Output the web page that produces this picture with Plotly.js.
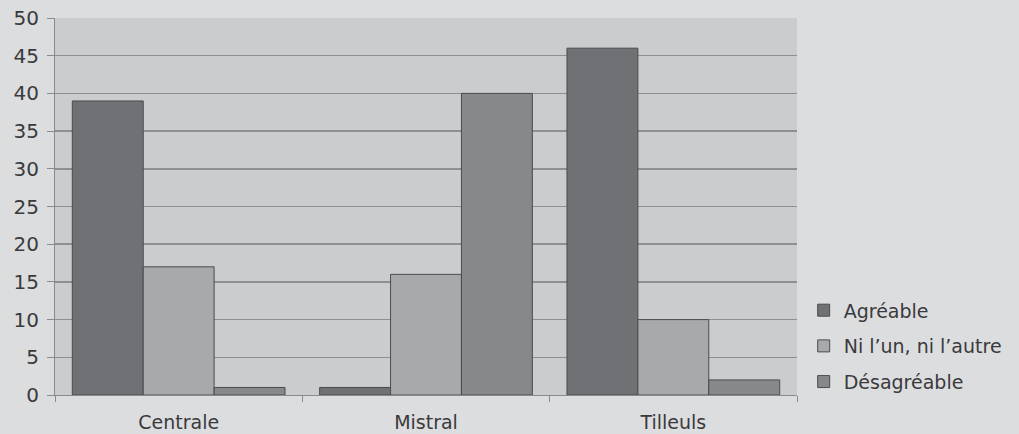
<!DOCTYPE html>
<html><head><meta charset="utf-8">
<script src="https://cdn.plot.ly/plotly-3.0.1.min.js"></script>
<style>html,body{margin:0;padding:0;background:#dcdddf;}</style>
</head><body>
<div id="chart" style="width:1019px;height:434px;"></div>
<script>
const categories = ["Centrale", "Mistral", "Tilleuls"];
const agreable = [39, 1, 46];
const niLunNiLautre = [17, 16, 10];
const desagreable = [1, 40, 2];
const seriesNames = ["Agréable", "Ni l’un, ni l’autre", "Désagréable"];
const yTicks = [0, 5, 10, 15, 20, 25, 30, 35, 40, 45, 50];

const colors = ["#707174", "#a8a9ab", "#87888a"];
const series = [agreable, niLunNiLautre, desagreable];
const traces = series.map((vals, i) => ({
  type: "bar", x: categories, y: vals, name: seriesNames[i],
  legendgroup: "g" + i,
  marker: {color: colors[i], line: {color: "#4c4c4e", width: 1}}
}));

const layout = {
  width: 1019, height: 434,
  paper_bgcolor: "#dcdddf", plot_bgcolor: "#cbcccd",
  margin: {l: 55, r: 222, t: 18, b: 39, autoexpand: false},
  barmode: "group", bargap: 0.14, bargroupgap: 0,
  font: {family: "'DejaVu Sans', sans-serif", color: "#3a3a3c", size: 18},
  xaxis: {
    showgrid: false, showline: true, linecolor: "#8a8a8c", linewidth: 1,
    ticks: "outside", tickson: "boundaries", ticklen: 6, tickcolor: "#8a8a8c",
    ticklabelstandoff: 10,
    tickfont: {size: 19}, fixedrange: true
  },
  yaxis: {
    range: [0, 50], tickvals: yTicks, ticktext: yTicks.map(String),
    showgrid: true, gridcolor: "#8e8f91", gridwidth: 1.5,
    showline: true, linecolor: "#8a8a8c", linewidth: 1, zeroline: false,
    ticks: "outside", ticklen: 7, tickcolor: "#8a8a8c",
    ticklabelstandoff: 4,
    tickfont: {size: 20}, fixedrange: true
  },
  showlegend: true,
  legend: {
    x: 1.009, xanchor: "left", y: 0.275, yanchor: "top",
    bgcolor: "rgba(0,0,0,0)", font: {size: 19},
    traceorder: "grouped", tracegroupgap: 8, itemwidth: 30
  }
};
Plotly.newPlot("chart", traces, layout, {displayModeBar: false, staticPlot: true});
</script>
</body></html>
